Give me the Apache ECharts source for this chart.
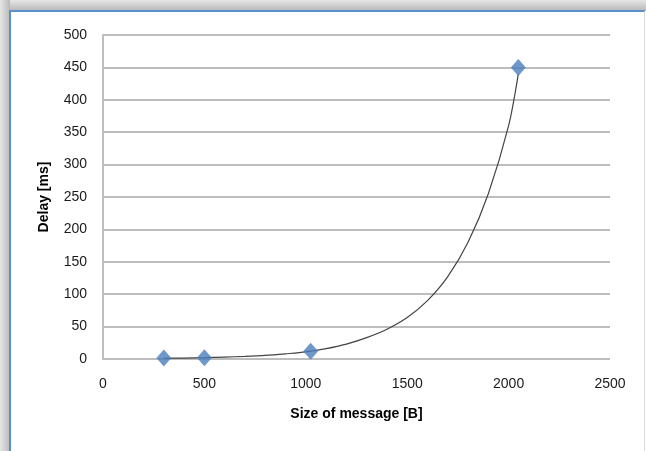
<!DOCTYPE html>
<html>
<head>
<meta charset="utf-8">
<script src="https://cdn.jsdelivr.net/npm/echarts@6/dist/echarts.min.js"></script>
<style>
  html, body { margin: 0; padding: 0; background: #fff; overflow: hidden; }
  #frame {
    position: absolute; left: 0; top: 0; width: 646px; height: 451px;
    background: linear-gradient(to right, #e6e6e6, #b8b8b8 10px, transparent 10px),
                linear-gradient(to bottom, #e6e6e6, #b8b8b8 11px, transparent 11px);
  }
  #panel {
    position: absolute; left: 9px; top: 10px; width: 633px; height: 460px;
    background: #fff;
    border-left: 2px solid #5b8fcf; border-top: 2px solid #5b8fcf;
    border-right: 1px solid #d8d8d8;
  }
  #main { position: absolute; left: 0; top: 0; width: 646px; height: 451px; }
</style>
</head>
<body>
<div id="frame"></div>
<div id="panel"></div>
<div id="main"></div>
<script>
// measured points
const msgSize = [300, 500, 1024, 2048];
const delay = [1.5, 2, 12, 450];

// trend curve
const curveX = [300, 400, 500, 600, 700, 800, 900, 1000, 1100, 1200, 1300, 1400, 1500, 1600, 1700, 1800, 1900, 2000, 2048];
const curveY = [1, 1.5, 2, 3, 4, 5.5, 8, 11, 16, 23, 33, 46, 64, 90, 127, 180, 255, 360, 440];

const pts = msgSize.map((x, i) => [x, delay[i]]);
const curve = curveX.map((x, i) => [x, curveY[i]]);

const chart = echarts.init(document.getElementById('main'));
const font = 'Liberation Sans, Arial, sans-serif';

chart.setOption({
  backgroundColor: 'transparent',
  animation: false,
  grid: { left: 103, right: 36, top: 35, bottom: 92 },
  xAxis: {
    type: 'value', min: 0, max: 2500, interval: 500,
    name: 'Size of message [B]', nameLocation: 'middle', nameGap: 48,
    nameTextStyle: { fontFamily: font, fontWeight: 'bold', fontSize: 14, color: '#000' },
    axisLine: { show: false },
    axisTick: { show: false },
    splitLine: { show: false },
    axisLabel: { fontFamily: font, fontSize: 14, color: '#1a1a1a', margin: 18, formatter: v => String(v) }
  },
  yAxis: {
    type: 'value', min: 0, max: 500, interval: 50,
    name: 'Delay [ms]', nameLocation: 'middle', nameGap: 52,
    nameTextStyle: { fontFamily: font, fontWeight: 'bold', fontSize: 14, color: '#000' },
    axisLine: { show: true, lineStyle: { color: '#bdbdbd', width: 2 } },
    axisTick: { show: false },
    splitLine: { show: true, lineStyle: { color: '#bdbdbd', width: 2 } },
    axisLabel: { fontFamily: font, fontSize: 14, color: '#1a1a1a', margin: 16 }
  },
  series: [
    {
      type: 'line', data: curve, smooth: 0.3, symbol: 'none',
      lineStyle: { color: '#444', width: 1.2 }, z: 2
    },
    {
      type: 'scatter', data: pts, symbol: 'diamond', symbolSize: [15, 17],
      itemStyle: { color: '#4a7ebb' }, z: 3
    }
  ]
});
</script>
</body>
</html>
